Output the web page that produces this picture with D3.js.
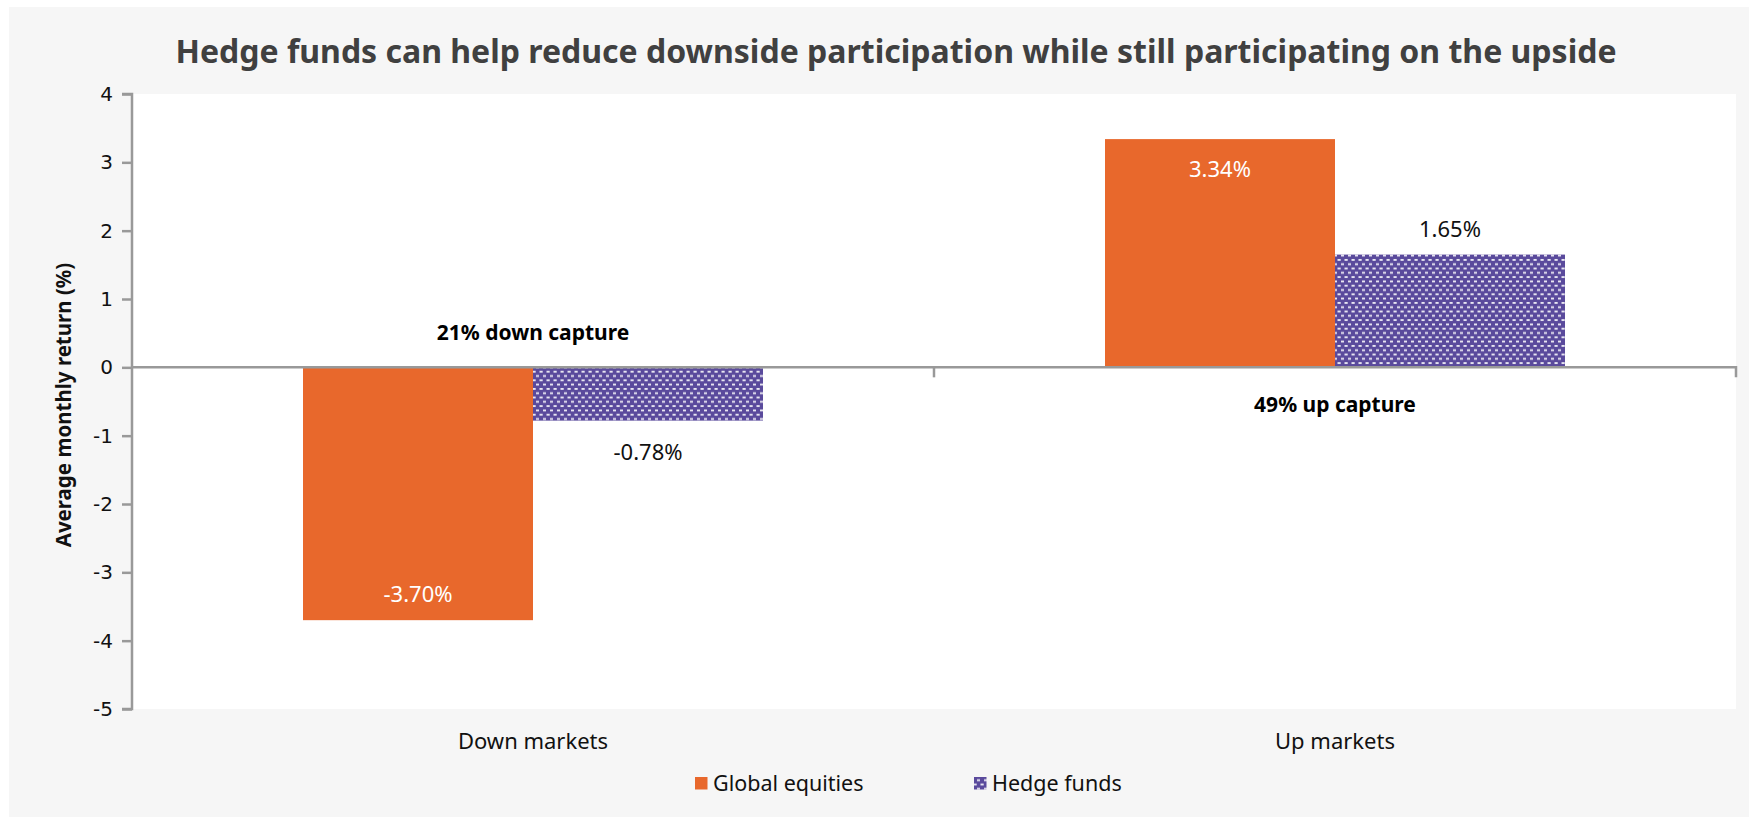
<!DOCTYPE html>
<html><head><meta charset="utf-8">
<script src="https://cdn.jsdelivr.net/npm/d3@7"></script>
<style>
html,body{margin:0;padding:0;background:#fff;}
svg{display:block;font-family:"Noto Sans",sans-serif;}
</style></head>
<body><svg id="c" width="1749" height="817"></svg>
<script>
const title = "Hedge funds can help reduce downside participation while still participating on the upside";
const categories = ["Down markets", "Up markets"];
const seriesNames = ["Global equities", "Hedge funds"];
const globalEquities = [-3.70, 3.34];
const hedgeFunds = [-0.78, 1.65];
const valueLabels = [["-3.70%", "3.34%"], ["-0.78%", "1.65%"]];
const captureNotes = ["21% down capture", "49% up capture"];
const yTicks = [4, 3, 2, 1, 0, -1, -2, -3, -4, -5];
const yTitle = "Average monthly return (%)";

const W = 1749, H = 817;
const svg = d3.select("#c");
const orange = "#e8682c", purple = "#5a4a9c";

const defs = svg.append("defs");
const pat = defs.append("pattern").attr("id","hatch").attr("patternUnits","userSpaceOnUse")
  .attr("width",7).attr("height",8.6);
pat.append("rect").attr("width",7).attr("height",8.6).attr("fill",purple);
pat.append("rect").attr("x",0.5).attr("y",1).attr("width",3.2).attr("height",1.8).attr("fill","#fff").attr("opacity",0.9);
pat.append("rect").attr("x",4).attr("y",5.3).attr("width",3.2).attr("height",1.8).attr("fill","#fff").attr("opacity",0.9);

// background panel
svg.append("rect").attr("x",9).attr("y",7).attr("width",W-9).attr("height",H-7).attr("fill","#f6f6f6");

const m = {l:132, r:1736, t:94, b:709};
svg.append("rect").attr("x",m.l).attr("y",m.t).attr("width",m.r-m.l).attr("height",m.b-m.t).attr("fill","#fff");

const y = d3.scaleLinear().domain([-5,4]).range([m.b, m.t]);
const x0 = d3.scaleBand().domain(categories).range([m.l, m.r]);
const groupW = 460;
const x1 = d3.scaleBand().domain(seriesNames).range([0, groupW]);

// title
svg.append("text").attr("x",896).attr("y",51).attr("dy","0.36em").attr("text-anchor","middle")
  .attr("font-size",32).attr("font-weight","bold").attr("fill","#404040").text(title);

// bars
const series = [globalEquities, hedgeFunds];
const fills = [orange, "url(#hatch)"];
series.forEach((vals, si) => {
  svg.append("g").selectAll("rect").data(vals).join("rect")
    .attr("x",(d,i)=> x0(categories[i]) + (x0.bandwidth()-groupW)/2 + x1(seriesNames[si]))
    .attr("width", x1.bandwidth())
    .attr("y", d=> y(Math.max(0,d)))
    .attr("height", d=> Math.abs(y(d)-y(0)))
    .attr("fill", fills[si]);
});

// y axis
const yAxis = d3.axisLeft(y).tickValues(yTicks).tickSize(10).tickPadding(9).tickFormat(d => String(d));
const ga = svg.append("g").attr("transform",`translate(${m.l},0)`).call(yAxis);
ga.select(".domain").attr("stroke","#999").attr("stroke-width",2.5).attr("d",`M-10,${m.t}H0V${m.b}H-10`);
ga.selectAll(".tick line").attr("stroke","#999").attr("stroke-width",2.5);
ga.selectAll(".tick text").attr("font-size",20).attr("fill","#111").attr("font-family","DejaVu Sans, sans-serif");

// zero line x axis
const xAxis = d3.axisBottom(x0).tickSize(0).tickFormat("");
const gx = svg.append("g").attr("transform",`translate(0,${y(0)})`).call(xAxis);
gx.select(".domain").attr("stroke","#999").attr("stroke-width",2.5).attr("d",`M${m.l},0H${m.r}V10`);
gx.append("line").attr("x1",x0(categories[1])).attr("x2",x0(categories[1])).attr("y1",0).attr("y2",10)
  .attr("stroke","#999").attr("stroke-width",2.5);

// category labels
svg.append("g").selectAll("text").data(categories).join("text")
  .attr("x", d=> x0(d)+x0.bandwidth()/2).attr("y", 741).attr("dy","0.36em").attr("text-anchor","middle")
  .attr("font-size",22).attr("fill","#111").text(d=>d);

// value labels
series.forEach((vals, si) => {
  svg.append("g").selectAll("text").data(vals).join("text")
    .attr("x",(d,i)=> x0(categories[i]) + (x0.bandwidth()-groupW)/2 + x1(seriesNames[si]) + x1.bandwidth()/2)
    .attr("y", d=> {
      if (si===0) return d<0 ? y(d)-26 : y(d)+30;
      return d<0 ? y(d)+31 : y(d)-26;
    })
    .attr("dy","0.36em")
    .attr("text-anchor","middle").attr("font-size",22)
    .attr("fill", si===0 ? "#fff" : "#111")
    .text((d,i)=> valueLabels[si][i]);
});

// capture notes
svg.append("text").attr("x", x0(categories[0])+x0.bandwidth()/2).attr("y",332).attr("dy","0.36em").attr("text-anchor","middle")
  .attr("font-size",21).attr("font-weight","bold").attr("fill","#000").text(captureNotes[0]);
svg.append("text").attr("x", x0(categories[1])+x0.bandwidth()/2).attr("y",404).attr("dy","0.36em").attr("text-anchor","middle")
  .attr("font-size",21).attr("font-weight","bold").attr("fill","#000").text(captureNotes[1]);

// y title
svg.append("text").attr("transform","translate(64,405) rotate(-90)").attr("dy","0.36em").attr("text-anchor","middle")
  .attr("font-size",20.5).attr("font-weight","bold").attr("fill","#111").text(yTitle);

// legend
const legX = [695, 974];
seriesNames.forEach((s,i)=>{
  svg.append("rect").attr("x",legX[i]).attr("y",777).attr("width",12.5).attr("height",12.5).attr("fill",fills[i]);
  svg.append("text").attr("x",legX[i]+18).attr("y",783).attr("dy","0.36em").attr("font-size",21.5).attr("fill","#111").text(s);
});
</script></body></html>
